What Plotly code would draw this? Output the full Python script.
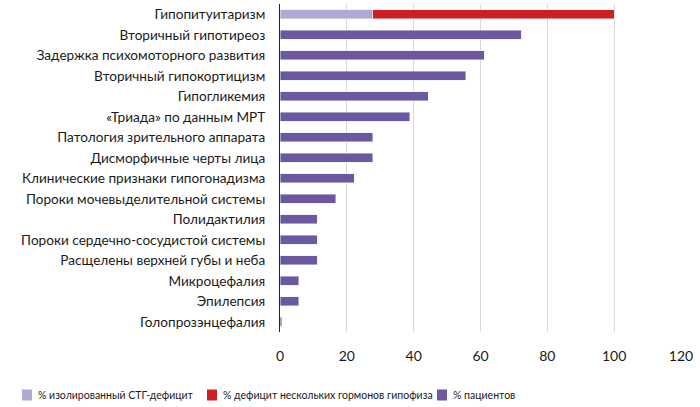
import plotly.graph_objects as go

categories = [
    "Гипопитуитаризм",
    "Вторичный гипотиреоз",
    "Задержка психомоторного развития",
    "Вторичный гипокортицизм",
    "Гипогликемия",
    "«Триада» по данным МРТ",
    "Патология зрительного аппарата",
    "Дисморфичные черты лица",
    "Клинические признаки гипогонадизма",
    "Пороки мочевыделительной системы",
    "Полидактилия",
    "Пороки сердечно-сосудистой системы",
    "Расщелены верхней губы и неба",
    "Микроцефалия",
    "Эпилепсия",
    "Голопрозэнцефалия",
]
series_names = [
    "% изолированный СТГ-дефицит",
    "% дефицит нескольких гормонов гипофиза",
    "% пациентов",
]
isolated_gh = [27.8] + [None] * 15
multi_hormone = [72.2] + [None] * 15
patients = [None, 72.2, 61.1, 55.6, 44.4, 38.9, 27.8, 27.8, 22.2, 16.7,
            11.1, 11.1, 11.1, 5.6, 5.6, 0.5]
x_ticks = [0, 20, 40, 60, 80, 100, 120]
colors = ["#b3a8d4", "#cf1f26", "#6b58a0"]

FONT = "Lato"
W, H = 700, 407
ML, MR, MT, MB = 280, 19, 4, 75
PW, PH = W - ML - MR, H - MT - MB

fig = go.Figure()
for name, vals, col in zip(series_names, [isolated_gh, multi_hormone, patients], colors):
    fig.add_trace(go.Bar(y=categories, x=vals, orientation="h", name=name,
                         marker_color=col, showlegend=False))

# custom horizontal legend (compact, like the original)
def px_x(px):
    return (px - ML) / PW

def px_y(py):
    return (H - MB - py) / PH

legend_square_px = [22, 207, 437]
legend_cy = 395
shapes, annots = [], []
for name, col, sx in zip(series_names, colors, legend_square_px):
    shapes.append(dict(type="rect", xref="paper", yref="paper",
                       x0=px_x(sx), x1=px_x(sx + 10),
                       y0=px_y(legend_cy + 5.5), y1=px_y(legend_cy - 5.5),
                       fillcolor=col, line=dict(width=0)))
    annots.append(dict(text=name, xref="paper", yref="paper",
                       x=px_x(sx + 14), y=px_y(legend_cy),
                       xanchor="left", yanchor="middle", showarrow=False,
                       font=dict(family=FONT, size=10.5, color="#1a1a1a")))

fig.update_layout(
    width=W, height=H,
    barmode="stack", bargap=0.58,
    plot_bgcolor="white", paper_bgcolor="white",
    margin=dict(l=ML, r=MR, t=MT, b=MB),
    font=dict(family=FONT, size=13.6, color="#1a1a1a"),
    showlegend=False,
    shapes=shapes, annotations=annots,
)
fig.update_xaxes(range=[0, 120], tickvals=x_ticks, showgrid=True,
                 gridcolor="#d9d9d9", gridwidth=1, zeroline=False,
                 showline=False, ticks="", ticklabelstandoff=14,
                 tickfont=dict(size=14))
fig.update_yaxes(autorange="reversed", showline=True, linecolor="#222",
                 linewidth=1, ticks="", ticklabelstandoff=11, showgrid=False)

fig.write_html("out.html")
